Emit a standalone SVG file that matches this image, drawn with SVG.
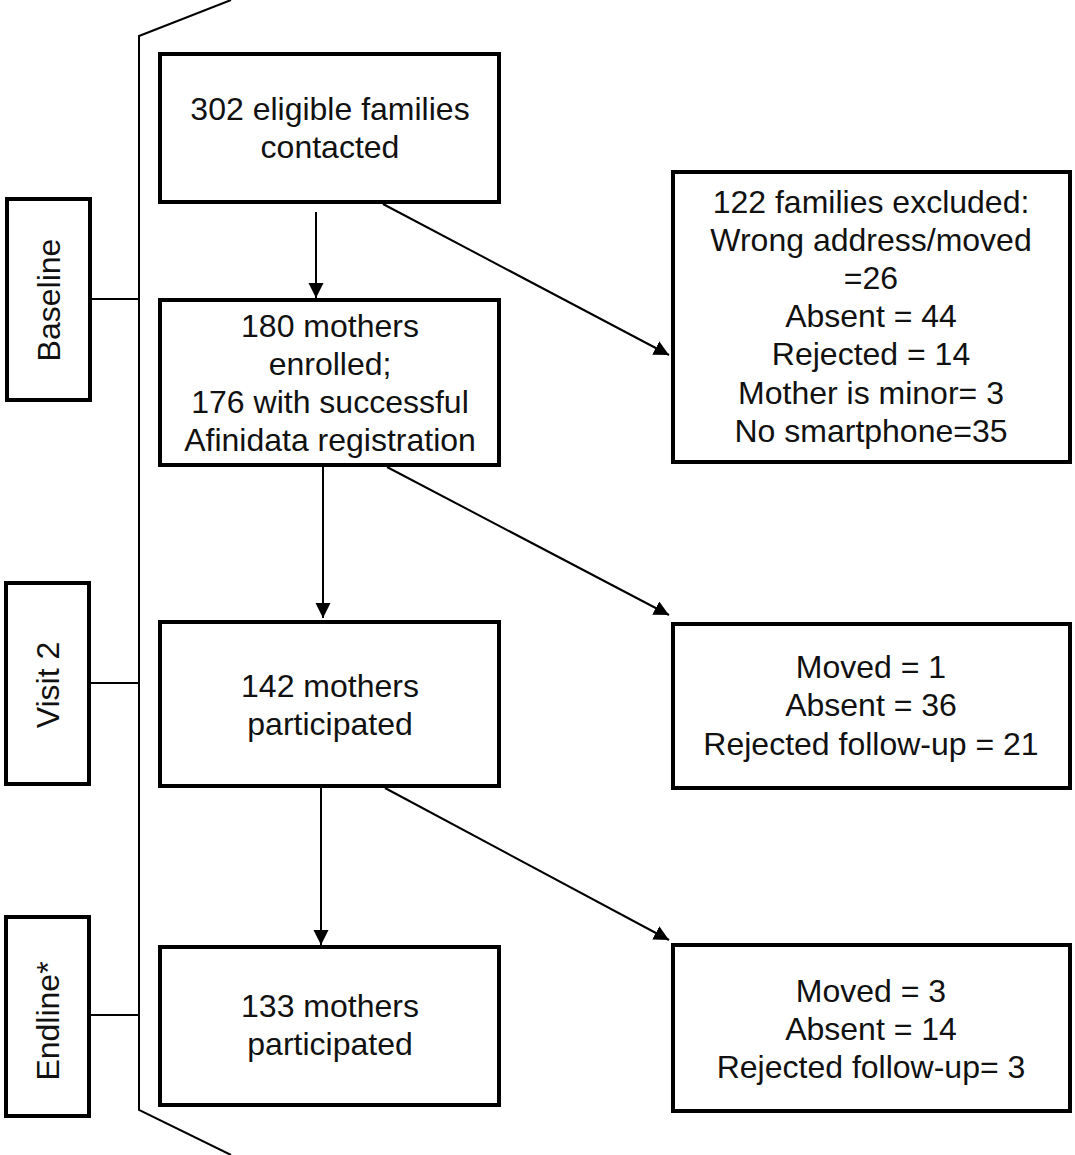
<svg xmlns="http://www.w3.org/2000/svg" width="1075" height="1155" viewBox="0 0 1075 1155">
<style>
.box{fill:#fff;stroke:#000;stroke-width:4}
.ln{fill:none;stroke:#000;stroke-width:2}
text{font-family:"Liberation Sans",Arial,sans-serif;font-size:32px;fill:#111;text-anchor:middle}
</style>
<defs>
<marker id="ah" markerUnits="userSpaceOnUse" markerWidth="16" markerHeight="16" refX="15" refY="7.5" orient="auto">
<path d="M0,0 L15,7.5 L0,15 z" fill="#000"/>
</marker>
</defs>
<rect width="1075" height="1155" fill="#fff"/>
<g id="connectors">
<polyline class="ln" points="231,0 139,36 139,1110 231,1155"/>
<line class="ln" x1="92" y1="299" x2="139" y2="299"/>
<line class="ln" x1="91" y1="683" x2="139" y2="683"/>
<line class="ln" x1="91" y1="1015" x2="139" y2="1015"/>
<line class="ln" x1="316" y1="212" x2="316" y2="298" marker-end="url(#ah)"/>
<line class="ln" x1="323" y1="467" x2="323" y2="618" marker-end="url(#ah)"/>
<line class="ln" x1="321" y1="788" x2="321" y2="945" marker-end="url(#ah)"/>
<line class="ln" x1="383" y1="204" x2="669" y2="355" marker-end="url(#ah)"/>
<line class="ln" x1="387" y1="467" x2="669" y2="615" marker-end="url(#ah)"/>
<line class="ln" x1="385" y1="788" x2="669" y2="940" marker-end="url(#ah)"/>
</g>
<g id="label-baseline">
<rect class="box" x="7" y="199" width="83" height="201"/>
<text x="60" y="300" transform="rotate(-90 60 300)">Baseline</text>
</g>
<g id="label-visit2">
<rect class="box" x="6" y="583" width="83" height="201"/>
<text x="59" y="685" transform="rotate(-90 59 685)">Visit 2</text>
</g>
<g id="label-endline">
<rect class="box" x="6" y="917" width="83" height="199"/>
<text x="59" y="1021" transform="rotate(-90 59 1021)">Endline*</text>
</g>
<g id="n1">
<rect class="box" x="160" y="54" width="339" height="148"/>
<text x="330" y="120">302 eligible families</text>
<text x="330" y="158">contacted</text>
</g>
<g id="n2">
<rect class="box" x="160" y="300" width="339" height="165"/>
<text x="330" y="337">180 mothers</text>
<text x="330" y="375">enrolled;</text>
<text x="330" y="413">176 with successful</text>
<text x="330" y="451">Afinidata registration</text>
</g>
<g id="n3">
<rect class="box" x="160" y="622" width="339" height="164"/>
<text x="330" y="697">142 mothers</text>
<text x="330" y="735">participated</text>
</g>
<g id="n4">
<rect class="box" x="160" y="947" width="339" height="158"/>
<text x="330" y="1017">133 mothers</text>
<text x="330" y="1055">participated</text>
</g>
<g id="r1">
<rect class="box" x="673" y="172" width="397" height="290"/>
<text x="871" y="213">122 families excluded:</text>
<text x="871" y="251">Wrong address/moved</text>
<text x="871" y="289">=26</text>
<text x="871" y="327">Absent = 44</text>
<text x="871" y="365">Rejected = 14</text>
<text x="871" y="404">Mother is minor= 3</text>
<text x="871" y="442">No smartphone=35</text>
</g>
<g id="r2">
<rect class="box" x="673" y="624" width="397" height="164"/>
<text x="871" y="678">Moved = 1</text>
<text x="871" y="716">Absent = 36</text>
<text x="871" y="755">Rejected follow-up = 21</text>
</g>
<g id="r3">
<rect class="box" x="673" y="945" width="397" height="166"/>
<text x="871" y="1002">Moved = 3</text>
<text x="871" y="1040">Absent = 14</text>
<text x="871" y="1078">Rejected follow-up= 3</text>
</g>
</svg>
